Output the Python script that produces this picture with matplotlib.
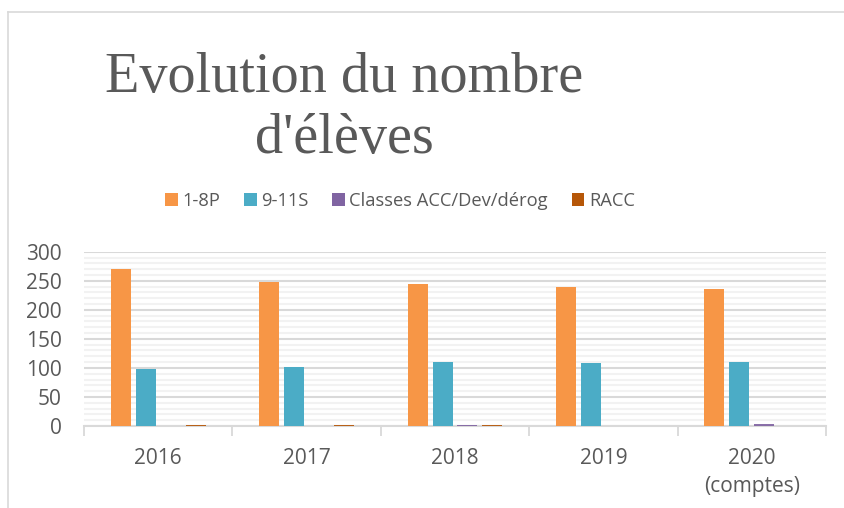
import matplotlib
matplotlib.use("Agg")
import matplotlib.pyplot as plt
from matplotlib.patches import Patch
from matplotlib.lines import Line2D
import numpy as np

categories = ["2016", "2017", "2018", "2019", "2020\n(comptes)"]
series_names = ["1-8P", "9-11S", "Classes ACC/Dev/dérog", "RACC"]
v_1_8P = [271, 247, 245, 240, 236]
v_9_11S = [98, 102, 110, 109, 111]
v_classes = [0, 0, 2, 0, 4]
v_racc = [1, 2, 2, 0, 0]
series_values = [v_1_8P, v_9_11S, v_classes, v_racc]
colors = ["#F79646", "#4BACC6", "#8064A2", "#B65708"]

TXT = "#595959"
FONT = "Open Sans"

fig = plt.figure(figsize=(8.44, 5.08), dpi=100)
W, H = 844, 508
ax = fig.add_axes([84 / W, 1 - 426 / H, (826 - 84) / W, (426 - 251.7) / H])

x = np.arange(len(categories))
bw = 0.135
step = 0.168
for i, (vals, c) in enumerate(zip(series_values, colors)):
    ax.bar(x + (i - 1.5) * step, vals, width=bw, color=c, edgecolor="none",
           linewidth=0, zorder=3, alpha=0.92 if i >= 2 else 1.0, label=series_names[i])

ax.set_xlim(-0.5, len(categories) - 0.5)
ax.set_ylim(0, 300)
ax.set_yticks(np.arange(0, 301, 50))
ax.set_yticks(np.arange(0, 301, 10), minor=True)
ax.yaxis.grid(True, which="major", color="#d9d9d9", lw=1.5, zorder=1)
ax.yaxis.grid(True, which="minor", color="#f2f2f2", lw=1.5, zorder=0)
ax.set_axisbelow(True)
ax.tick_params(axis="y", which="both", length=0, pad=16, labelsize=15, labelcolor=TXT)
for lab in ax.get_yticklabels():
    lab.set_fontfamily(FONT)

# category boundaries as major ticks, labels at centers as minor ticks
ax.set_xticks(np.arange(-0.5, len(categories), 1.0))
ax.set_xticklabels([])
ax.set_xticks(x, minor=True)
ax.set_xticklabels(categories, minor=True, fontsize=15, color=TXT, family=FONT,
                   linespacing=1.45)
ax.tick_params(axis="x", which="major", length=7, width=1.3, color="#d9d9d9")
ax.tick_params(axis="x", which="minor", length=0, pad=16)

for s in ["top", "right", "left"]:
    ax.spines[s].set_visible(False)
ax.spines["bottom"].set_color("#d9d9d9")
ax.spines["bottom"].set_linewidth(1.5)
ax.spines["bottom"].set_zorder(2)

# title
fig.text(344 / W, 1 - 92 / H, "Evolution du nombre", ha="center", va="baseline",
         fontsize=40.5, family="Liberation Serif", color=TXT)
fig.text(344 / W, 1 - 153 / H, "d'élèves", ha="center", va="baseline",
         fontsize=40.5, family="Liberation Serif", color=TXT)

# legend
handles = [Patch(facecolor=c, edgecolor="none") for c in colors]
leg = fig.legend(handles, series_names, loc="center", bbox_to_anchor=(400 / W, 1 - 201 / H),
                 ncol=4, frameon=False, prop={"family": FONT, "size": 13.2},
                 handlelength=0.68, handleheight=0.68, handletextpad=0.25,
                 columnspacing=1.3, borderpad=0, borderaxespad=0)
for t in leg.get_texts():
    t.set_color(TXT)

# chart frame
fig.add_artist(Line2D([8 / W, 1], [1 - 12 / H, 1 - 12 / H], color="#d9d9d9", lw=1.2,
                      transform=fig.transFigure))
fig.add_artist(Line2D([8 / W, 8 / W], [0, 1 - 12 / H], color="#d9d9d9", lw=1.2,
                      transform=fig.transFigure))

fig.savefig("out.png", dpi=100)
